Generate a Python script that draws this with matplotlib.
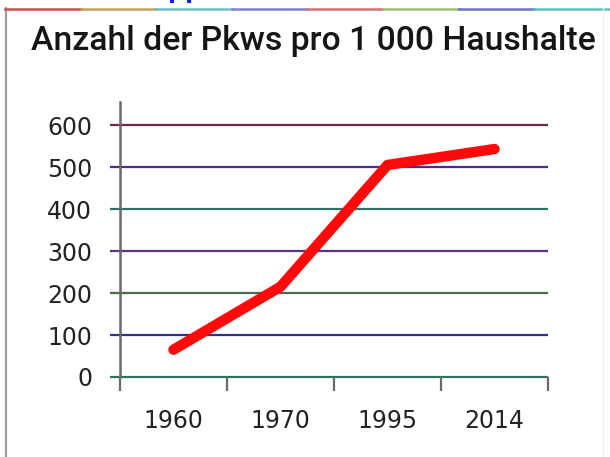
import matplotlib
matplotlib.use("Agg")
import matplotlib.pyplot as plt
from matplotlib.lines import Line2D

# ---- data ----
years = ["1960", "1970", "1995", "2014"]
cars_per_1000 = [65, 215, 505, 543]
y_ticks = [0, 100, 200, 300, 400, 500, 600]
grid_colors = ["#2f6f62", "#30309a", "#4a6a4a", "#5a3088", "#2f7068", "#4a28a0", "#6a2a50"]
title = "Anzahl der Pkws pro 1 000 Haushalte"

W, H, DPI = 610, 457, 100
fig = plt.figure(figsize=(W / DPI, H / DPI), dpi=DPI)
fig.patch.set_facecolor("white")

# axes placed in pixel terms
ax_l, ax_r, ax_b, ax_t = 120, 548, 457 - 377, 457 - 102
ax = fig.add_axes([ax_l / W, ax_b / H, (ax_r - ax_l) / W, (ax_t - ax_b) / H])
ax.set_facecolor("white")

x = list(range(len(years)))
ax.set_xlim(-0.5, len(years) - 0.5)
ax.set_ylim(0, 655)

# gridlines (extend a bit left of the y axis)
ext = 10 / ((ax_r - ax_l) / len(years))
for yv, c in zip(y_ticks, grid_colors):
    ax.hlines(yv, -0.5 - ext, len(years) - 0.5, colors=c, linewidth=1.6, clip_on=False, zorder=1)

# red line
ax.plot(x, cars_per_1000, color="#ff0a0a", linewidth=7.5, solid_capstyle="round",
        solid_joinstyle="round", zorder=3)

# spines
for s in ["top", "right", "bottom"]:
    ax.spines[s].set_visible(False)
ax.spines["left"].set_color("#6a6a6a")
ax.spines["left"].set_linewidth(1.8)

# x ticks: marks at category boundaries, labels at centers
ax.set_xticks([i - 0.5 for i in range(len(years) + 1)])
ax.set_xticklabels([])
ax.tick_params(axis="x", which="major", length=10, width=1.6, color="#6a6a6a", direction="out")
ax.set_xticks(x, minor=True)
ax.set_xticklabels(years, minor=True)
ax.tick_params(axis="x", which="minor", length=0, pad=23, labelsize=17, labelcolor="#222222")

ax.set_yticks(y_ticks)
ax.set_yticklabels([str(v) for v in y_ticks])
ax.tick_params(axis="y", length=0, pad=20, labelsize=17, labelcolor="#222222")

for lab in ax.get_xticklabels(minor=True) + ax.get_yticklabels():
    lab.set_family("DejaVu Sans")

# title scaled to the target width
t = fig.text(31 / W, 1 - 41 / H, title, fontsize=22, fontweight="medium", family="Roboto",
             color="#151515", ha="left", va="center")
fig.canvas.draw()
r = fig.canvas.get_renderer()
w = t.get_window_extent(r).width
t.set_fontsize(22 * 566 / w)

# frame of the scanned box
fig.add_artist(Line2D([5.5 / W, 5.5 / W], [0, 1 - 8 / H], color="#9a9a9a", linewidth=1.5))
seg_cols = ["#d05050", "#c0a060", "#70c0c0", "#8080d0", "#d07070", "#a0c080", "#7070c0", "#60c0c0"]
n = len(seg_cols)
for i, c in enumerate(seg_cols):
    x0 = 5 + i * (605 / n)
    x1 = 5 + (i + 1) * (605 / n)
    fig.add_artist(Line2D([x0 / W, x1 / W], [1 - 8.5 / H, 1 - 8.5 / H], color=c, linewidth=1.8))
fig.add_artist(Line2D([603 / W, 603 / W], [0, 1 - 8 / H], color="#f0f0f0", linewidth=1.0))

# cropped blue text fragment at the very top
fig.text(168 / W, 1 + 2 / H, "pp", color="#1a1aff", fontsize=17, fontweight="bold",
         ha="left", va="baseline")

fig.savefig("out.png", dpi=DPI)
